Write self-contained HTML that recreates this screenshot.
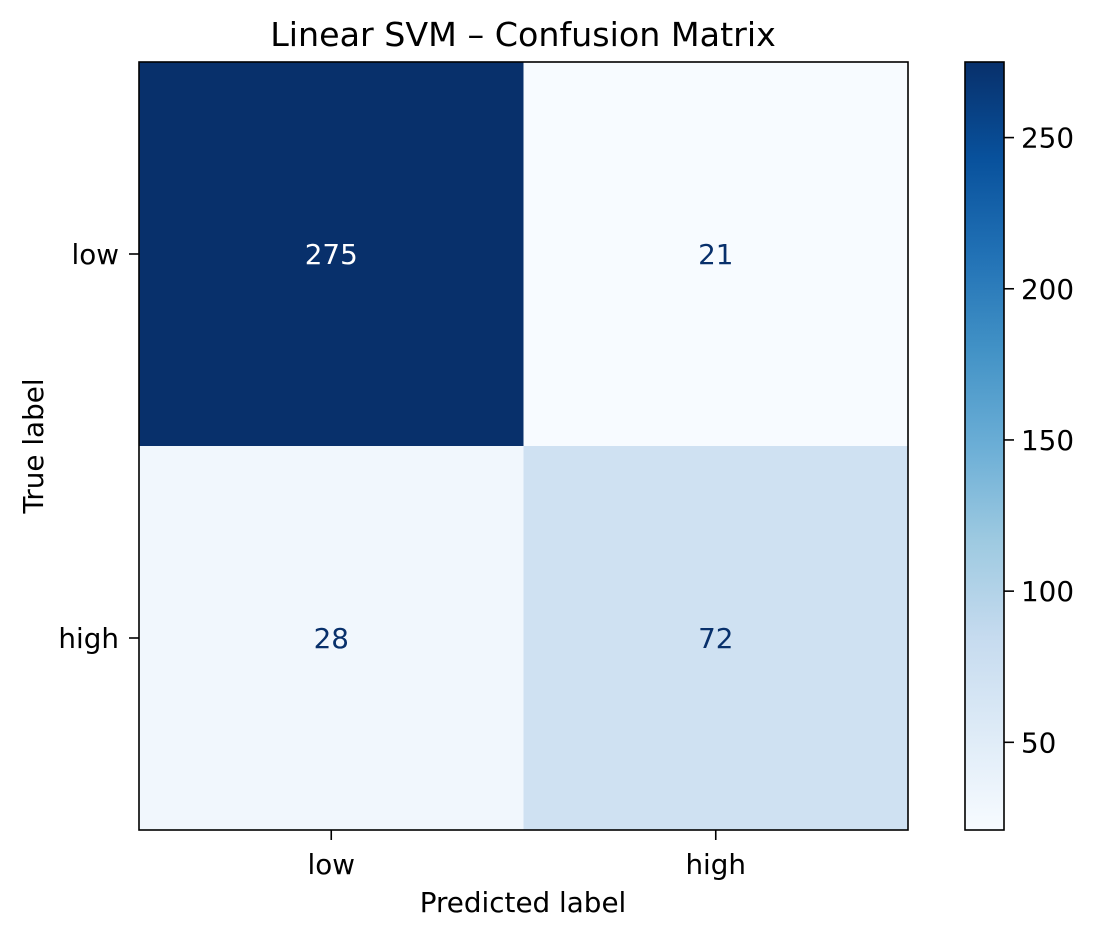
<!DOCTYPE html>
<html><head><meta charset="utf-8"><style>
body{margin:0;background:#fff;}
svg text{font-family:"DejaVu Sans","Liberation Sans",sans-serif;fill:#000;}
</style></head><body>
<svg id="chart" width="1096" height="938" xmlns="http://www.w3.org/2000/svg">
<defs>
<linearGradient id="blues" x1="0" y1="1" x2="0" y2="0">
<stop offset="0" stop-color="#f7fbff"/><stop offset="0.125" stop-color="#deebf7"/><stop offset="0.25" stop-color="#c6dbef"/><stop offset="0.375" stop-color="#9ecae1"/><stop offset="0.5" stop-color="#6baed6"/><stop offset="0.625" stop-color="#4292c6"/><stop offset="0.75" stop-color="#2171b5"/><stop offset="0.875" stop-color="#08519c"/><stop offset="1" stop-color="#08306b"/>
</linearGradient>
</defs>
<text x="523" y="46" font-size="33.3" text-anchor="middle">Linear SVM – Confusion Matrix</text>
<g id="cells"></g>
<rect x="139" y="62" width="769" height="768" fill="none" stroke="#000" stroke-width="1.6"/>
<g id="axes"></g>
<text x="523" y="912" font-size="27.8" text-anchor="middle">Predicted label</text>
<text transform="translate(43,446) rotate(-90)" font-size="27.8" text-anchor="middle">True label</text>
<rect x="965" y="62" width="39" height="768" fill="url(#blues)" stroke="#000" stroke-width="1.6"/>
<g id="cbticks"></g>
</svg>
<script>
const categories = ["low","high"];
const matrix = [[275,21],[28,72]];
const cbTicks = [50,100,150,200,250];
const stops=["#f7fbff","#deebf7","#c6dbef","#9ecae1","#6baed6","#4292c6","#2171b5","#08519c","#08306b"];
const NS="http://www.w3.org/2000/svg";
const flat=matrix.flat(), vmin=Math.min(...flat), vmax=Math.max(...flat);
const X0=139,Y0=62,W=769,H=768,n=categories.length;
function xPos(i){return X0+W*i/n;}
function yPos(i){return Y0+H*i/n;}
function cbY(v){return 830-(v-vmin)/(vmax-vmin)*768;}
function hex(h){return [1,3,5].map(k=>parseInt(h.substr(k,2),16));}
function blues(t){t=Math.max(0,Math.min(1,t))*(stops.length-1);const i=Math.min(Math.floor(t),stops.length-2),f=t-i;const a=hex(stops[i]),b=hex(stops[i+1]);return "rgb("+a.map((c,k)=>Math.round(c+(b[k]-c)*f)).join(",")+")";}
function mk(tag,attrs,parent){const e=document.createElementNS(NS,tag);for(const k in attrs)e.setAttribute(k,attrs[k]);parent.appendChild(e);return e;}
const cells=document.getElementById("cells"),axes=document.getElementById("axes"),cb=document.getElementById("cbticks");
matrix.forEach((row,r)=>row.forEach((v,c)=>{
 const rc=mk("rect",{x:xPos(c),y:yPos(r),width:W/n,height:H/n,fill:blues((v-vmin)/(vmax-vmin))},cells);
 
 
 const t=mk("text",{x:xPos(c)+W/n/2,y:yPos(r)+H/n/2+10,"font-size":"27.8","text-anchor":"middle"},cells);
 t.style.fill=v>(vmin+vmax)/2?"#fff":"#08306b";
 t.textContent=v;
 
 
}));
categories.forEach((c,i)=>{
 const cx=xPos(i)+W/n/2, cy=yPos(i)+H/n/2;
 mk("line",{x1:cx,x2:cx,y1:830,y2:840,stroke:"#000","stroke-width":1.6},axes);
 const tx=mk("text",{x:cx,y:874,"font-size":"27.8","text-anchor":"middle"},axes);tx.textContent=c;
 
 
 mk("line",{x1:129,x2:139,y1:cy,y2:cy,stroke:"#000","stroke-width":1.6},axes);
 const ty=mk("text",{x:119,y:cy+10,"font-size":"27.8","text-anchor":"end"},axes);ty.textContent=c;
 
 
});
cbTicks.forEach(v=>{
 const y=cbY(v);
 mk("line",{x1:1004,x2:1014,y1:y,y2:y,stroke:"#000","stroke-width":1.6},cb);
 const t=mk("text",{x:1021,y:y+10,"font-size":"27.8"},cb);t.textContent=v;
 
 
});
</script>
</body></html>
